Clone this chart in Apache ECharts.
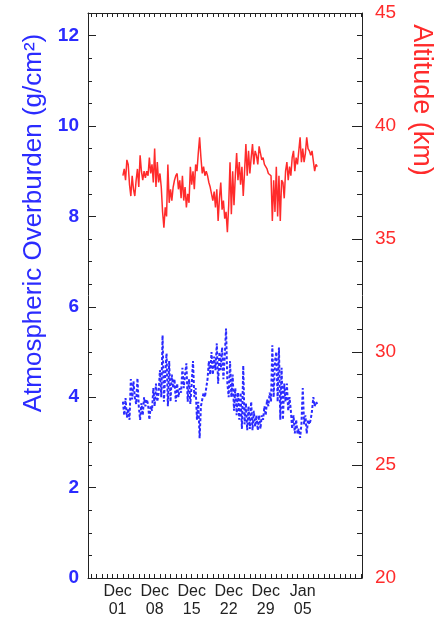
<!DOCTYPE html>
<html>
<head>
<meta charset="utf-8">
<script src="https://cdn.jsdelivr.net/npm/echarts@6/dist/echarts.min.js"></script>
<style>html,body{margin:0;padding:0;background:#fff}#c{width:444px;height:624px}</style>
</head>
<body>
<div id="c"></div>
<script>
// Sampling: days after Nov 01 00:00 (Dec 01 = day 30), one sample every 6 hours
const startDay = 31.0;
const stepDay = 0.25;

// Altitude (km), right axis
const altitude = [
  37.8, 38.1, 37.6, 38.5,
  38.3, 37.4, 36.9, 37.8,
  37.2, 36.9, 37.6, 38.1,
  37.3, 38.7, 38.0, 37.6,
  38.0, 37.7, 38.0, 37.8,
  38.6, 37.9, 38.3, 37.5,
  39.0, 37.3, 38.4, 37.5,
  37.9, 37.3, 36.2, 35.5,
  36.4, 36.0, 38.3, 36.6,
  37.2, 36.7, 37.3, 37.6,
  37.8, 37.9, 37.2, 37.6,
  36.8, 37.8, 36.7, 37.3,
  36.4, 37.0, 36.6, 38.2,
  37.4, 38.0, 37.2, 38.3,
  38.0, 38.8, 39.5, 38.6,
  37.9, 38.2, 37.8, 38.0,
  37.8, 37.5, 37.3, 37.0,
  36.7, 37.1, 36.4, 37.2,
  35.8, 36.8, 37.5, 36.3,
  36.7, 35.9, 36.2, 35.3,
  36.5, 38.4, 36.1, 38.0,
  36.5, 37.8, 38.8, 37.6,
  38.4, 37.4, 38.2, 36.9,
  38.0, 39.2, 37.8, 38.9,
  37.9, 38.6, 39.2, 38.3,
  38.9, 38.7, 38.3, 39.1,
  38.8, 38.5, 38.6, 38.3,
  38.2, 38.1, 37.9, 37.9,
  37.8, 35.8, 37.6, 36.2,
  38.2, 36.0, 37.8, 35.8,
  37.6, 37.5, 36.8, 38.0,
  38.4, 37.6, 38.2, 37.8,
  38.6, 38.9, 38.0, 38.6,
  38.3, 38.9, 39.5, 38.4,
  39.0, 38.4, 38.8, 39.5,
  39.0, 38.9, 38.7, 38.9,
  38.9, 38.0, 38.3, 38.2
];

// Atmospheric overburden (g/cm^2), left axis
const overburden = [
  3.9, 3.6, 3.98, 3.55,
  3.75, 3.5, 4.4, 3.95,
  4.35, 4.0, 3.85, 4.42,
  3.8, 3.5, 3.87, 3.6,
  4.0, 3.8, 3.95, 3.85,
  3.5, 3.8, 3.7, 4.2,
  3.8, 4.3, 3.9, 4.1,
  4.6, 4.0, 5.37, 3.9,
  4.5, 4.97, 3.8, 4.8,
  3.9, 4.5, 4.2, 4.4,
  3.9, 4.3, 4.0, 4.2,
  4.1, 4.65, 4.2, 4.5,
  4.75, 3.9, 4.4, 3.85,
  4.3, 4.8, 4.0, 4.2,
  3.5, 3.9, 3.09, 3.8,
  3.95, 4.1, 4.0, 4.2,
  4.4, 4.8, 4.5, 5.0,
  4.5, 4.9, 4.6, 5.19,
  4.3, 5.0, 4.6, 5.1,
  4.4, 4.9, 5.52, 4.3,
  4.0, 4.8, 4.0, 4.5,
  3.7, 4.2, 3.6, 4.1,
  3.5, 4.1, 3.3, 4.7,
  3.4, 3.87, 3.27, 3.8,
  3.3, 3.9, 3.27, 3.7,
  3.35, 3.6, 3.27, 3.6,
  3.3, 3.6, 3.5, 3.8,
  3.6, 3.95, 3.8, 4.1,
  3.9, 5.15, 4.0, 4.8,
  5.0, 3.9, 5.1, 3.5,
  4.65, 3.5, 4.3, 3.9,
  4.3, 3.7, 4.0, 3.7,
  3.3, 3.6, 3.2, 3.5,
  3.2, 3.3, 3.1, 3.4,
  4.2, 3.4, 3.6, 3.2,
  3.5, 3.4, 3.5, 3.7,
  4.0, 3.8, 3.9, 3.85
];

// X tick labels (days after Nov 01)
const dateTickDays = [30, 37, 44, 51, 58, 65];
const dateTickLabels = ['Dec\n01', 'Dec\n08', 'Dec\n15', 'Dec\n22', 'Dec\n29', 'Jan\n05'];
const leftTicks = [0, 2, 4, 6, 8, 10, 12];
const rightTicks = [20, 25, 30, 35, 40, 45];

const BLUE = '#2b2bff';
const RED = '#ff2b2b';
const INK = '#222';
const FONT = 'Liberation Sans, Arial, sans-serif';

const dailyTicks = [];
for (let d = 25; d <= 76; d++) dailyTicks.push(d);

const altData = altitude.map((v, i) => [startDay + i * stepDay, v]);
const obData = overburden.map((v, i) => [startDay + i * stepDay, v]);

const xCommon = {
  type: 'value', min: 24.4, max: 76.2,
  axisLine: {show: true, onZero: false, lineStyle: {color: INK}},
  splitLine: {show: false},
  axisTick: {show: true, inside: true, length: 4, customValues: dailyTicks, lineStyle: {color: INK}}
};

const chart = echarts.init(document.getElementById('c'), null, {renderer: 'canvas'});
chart.setOption({
  animation: false,
  backgroundColor: '#fff',
  grid: {left: 88, right: 82, top: 13, bottom: 46, show: false},
  xAxis: [Object.assign({}, xCommon, {
    position: 'bottom',
    axisLabel: {
      customValues: dateTickDays,
      formatter: function (v) { const k = dateTickDays.indexOf(Math.round(v)); return k >= 0 ? dateTickLabels[k] : ''; },
      color: INK, fontSize: 16, fontFamily: FONT, lineHeight: 18, margin: 5
    }
  }), Object.assign({}, xCommon, {
    position: 'top', axisLabel: {show: false}
  })],
  yAxis: [{
    type: 'value', position: 'left', min: 0, max: 12.5, interval: 2, z: 5,
    axisLine: {show: true, onZero: false, lineStyle: {color: INK}}, splitLine: {show: false},
    axisTick: {show: true, inside: true, length: 8, lineStyle: {color: INK, width: 1}},
    minorTick: {show: true, splitNumber: 4, length: 4, lineStyle: {color: INK, width: 1}},
    axisLabel: {customValues: leftTicks, color: BLUE, fontSize: 19, fontFamily: FONT, fontWeight: 'bold', margin: 9}
  }, {
    type: 'value', position: 'right', min: 20, max: 45, interval: 5, z: 5,
    axisLine: {show: true, onZero: false, lineStyle: {color: INK}}, splitLine: {show: false},
    axisTick: {show: true, inside: true, length: 10, lineStyle: {color: INK, width: 1}},
    minorTick: {show: true, splitNumber: 5, length: 5, lineStyle: {color: INK, width: 1}},
    axisLabel: {customValues: rightTicks, color: RED, fontSize: 19, fontFamily: FONT, margin: 13}
  }],
  graphic: [{
    type: 'text', x: 34, y: 223, rotation: Math.PI / 2,
    style: {text: 'Atmospheric Overburden (g/cm²)', font: '26px ' + FONT, fill: BLUE,
            textAlign: 'center', textVerticalAlign: 'middle', align: 'center', verticalAlign: 'middle'}
  }, {
    type: 'text', x: 421, y: 100, rotation: -Math.PI / 2,
    style: {text: 'Altitude (km)', font: '27px ' + FONT, fill: RED,
            textAlign: 'center', textVerticalAlign: 'middle', align: 'center', verticalAlign: 'middle'}
  }],
  series: [{
    type: 'line', xAxisIndex: 0, yAxisIndex: 1, data: altData, showSymbol: false,
    lineStyle: {color: RED, width: 1.5}
  }, {
    type: 'line', xAxisIndex: 0, yAxisIndex: 0, data: obData, showSymbol: false,
    lineStyle: {color: BLUE, width: 2, type: [3, 2]}
  }]
});
</script>
</body>
</html>
